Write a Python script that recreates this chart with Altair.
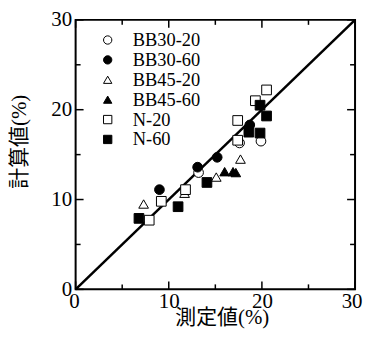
import altair as alt
import pandas as pd

series_names = ["BB30-20", "BB30-60", "BB45-20", "BB45-60", "N-20", "N-60"]
series_shapes = ["circle", "circle", "triangle-up", "triangle-up", "square", "square"]
series_fills = ["white", "black", "white", "black", "white", "black"]
series_strokes = ["black"] * 6

bb30_20_x = [13.2, 17.6, 19.9]
bb30_20_y = [13.0, 16.3, 16.5]
bb30_60_x = [9.0, 13.1, 15.2, 18.7]
bb30_60_y = [11.1, 13.6, 14.7, 18.3]
bb45_20_x = [7.3, 11.7, 15.1, 17.7]
bb45_20_y = [9.5, 10.7, 12.5, 14.5]
bb45_60_x = [16.0, 16.9, 17.2]
bb45_60_y = [13.1, 13.1, 13.0]
n20_x = [7.9, 9.2, 11.8, 17.4, 17.4, 19.3, 20.5]
n20_y = [7.7, 9.8, 11.1, 16.6, 18.8, 21.0, 22.2]
n60_x = [6.8, 11.0, 14.1, 18.6, 19.8, 19.8, 20.5]
n60_y = [7.9, 9.2, 11.9, 17.5, 17.4, 20.5, 19.3]

diag_x = [0, 30]
diag_y = [0, 30]
axis_values = [0, 10, 20, 30]
minor_values = [5, 15, 25]

xs_all = [bb30_20_x, bb30_60_x, bb45_20_x, bb45_60_x, n20_x, n60_x]
ys_all = [bb30_20_y, bb30_60_y, bb45_20_y, bb45_60_y, n20_y, n60_y]
rows = []
for name, xs, ys in zip(series_names, xs_all, ys_all):
    for a, b in zip(xs, ys):
        rows.append({"series": name, "x": a, "y": b})
df = pd.DataFrame(rows)

W, H = 281, 271
FONT = "Liberation Serif"
CJK = "Liberation Serif, Noto Sans CJK JP"

xscale = alt.Scale(domain=[0, 30], nice=False)
yscale = alt.Scale(domain=[0, 30], nice=False)

x_axis = alt.Axis(values=axis_values, ticks=False, domain=False, grid=False,
                  labelFont=FONT, labelFontSize=21, labelColor="black",
                  labelPadding=1, labelFlush=True, labelFlushOffset=7, labelOverlap=False,
                  title="測定値(%)", titleFont=CJK, titleFontSize=21,
                  titleFontWeight="normal", titleColor="black",
                  titleX=147, titleY=28, titleBaseline="middle", titleAlign="center")
y_axis = alt.Axis(values=axis_values, ticks=False, domain=False, grid=False,
                  labelFont=FONT, labelFontSize=21, labelColor="black",
                  labelPadding=4, labelFlush=False, labelOverlap=False,
                  title="計算値(%)", titleFont=CJK, titleFontSize=21,
                  titleFontWeight="normal", titleColor="black",
                  titleX=-56, titleY=122, titleAngle=270,
                  titleBaseline="middle", titleAlign="center")

legend = alt.Legend(orient="none", legendX=23, legendY=11, title=None, padding=0,
                    labelFont=FONT, labelFontSize=18.5, labelColor="black",
                    labelOffset=16, rowPadding=1, symbolSize=70,
                    symbolStrokeColor="black", symbolStrokeWidth=1)

line = alt.Chart(pd.DataFrame({"x": diag_x, "y": diag_y})).mark_line(
    color="black", strokeWidth=2.5
).encode(x=alt.X("x:Q", scale=xscale, axis=x_axis), y=alt.Y("y:Q", scale=yscale, axis=y_axis))

points = alt.Chart(df).mark_point(filled=True, strokeWidth=1,
                                  size=95, opacity=1).encode(
    x=alt.X("x:Q", scale=xscale, axis=x_axis),
    y=alt.Y("y:Q", scale=yscale, axis=y_axis),
    shape=alt.Shape("series:N", scale=alt.Scale(domain=series_names, range=series_shapes), legend=legend),
    fill=alt.Fill("series:N", scale=alt.Scale(domain=series_names, range=series_fills), legend=legend),
    stroke=alt.Stroke("series:N", scale=alt.Scale(domain=series_names, range=series_strokes), legend=legend),
)


def tick_layers(vals, L):
    d = pd.DataFrame({"v": vals})
    base = alt.Chart(d).mark_rule(color="black", strokeWidth=1.5)
    return [
        base.encode(x=alt.X("v:Q", scale=xscale, axis=x_axis), y=alt.value(H), y2=alt.value(H - L)),
        base.encode(x=alt.X("v:Q", scale=xscale, axis=x_axis), y=alt.value(0), y2=alt.value(L)),
        base.encode(y=alt.Y("v:Q", scale=yscale, axis=y_axis), x=alt.value(0), x2=alt.value(L)),
        base.encode(y=alt.Y("v:Q", scale=yscale, axis=y_axis), x=alt.value(W), x2=alt.value(W - L)),
    ]


layers = tick_layers(axis_values, 8) + tick_layers(minor_values, 5) + [line, points]

chart = alt.layer(*layers).properties(
    width=W, height=H,
    autosize=alt.AutoSizeParams(type="none"),
    padding={"left": 68, "top": 11, "right": 8, "bottom": 51},
    background="white",
).configure(font=FONT).configure_axis(labelFont=FONT, titleFont=CJK).configure_legend(
    labelFont=FONT
).configure_view(stroke="black", strokeWidth=2)

chart.save("out.html", embed_options={"renderer": "svg", "actions": False})
